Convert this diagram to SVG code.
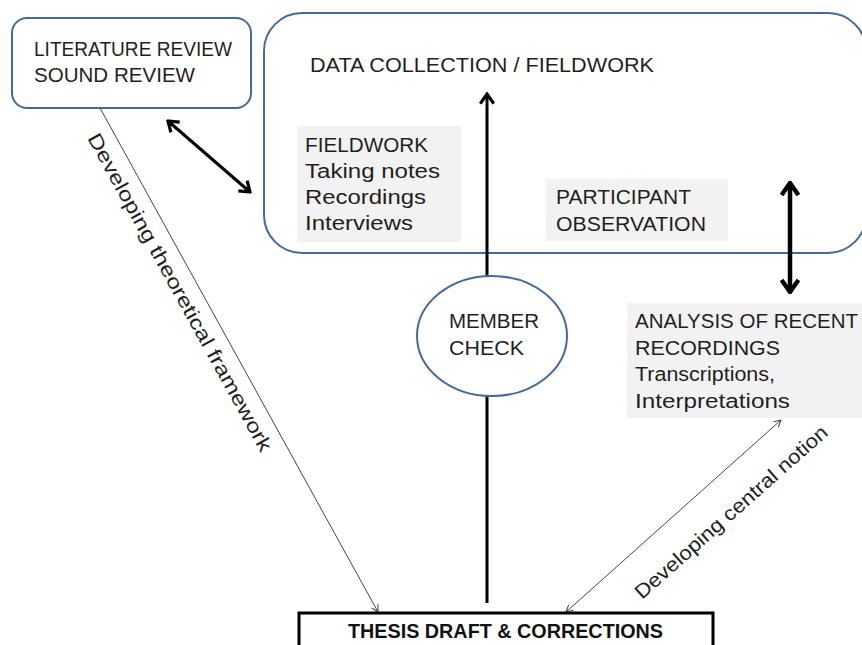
<svg xmlns="http://www.w3.org/2000/svg" width="862" height="645" viewBox="0 0 862 645">
<style>
.bx{fill:#fff;stroke:#44699b;stroke-width:2}
.gray{fill:#f2f2f2;stroke:none}
.t{font-family:"Liberation Sans",Arial,sans-serif;font-size:20px;fill:#1f1f1f}
.tb{font-family:"Liberation Sans",Arial,sans-serif;font-size:20px;font-weight:bold;fill:#111}
.thick{stroke:#000;fill:none}
.thin{stroke:#444;stroke-width:1;fill:none}
</style>
<defs>
<marker id="ah" viewBox="0 0 10 10" refX="9" refY="5" markerWidth="16" markerHeight="16" markerUnits="userSpaceOnUse" orient="auto-start-reverse">
<path d="M3,0.8 L9,5 L3,9.2" fill="none" stroke="#000" stroke-width="2" stroke-linejoin="miter"/>
</marker>
<marker id="ah2" viewBox="0 0 10 10" refX="9" refY="5" markerWidth="20" markerHeight="20" markerUnits="userSpaceOnUse" orient="auto-start-reverse">
<path d="M3,0.8 L9,5 L3,9.2" fill="none" stroke="#000" stroke-width="2.2"/>
</marker>
<marker id="ahs" viewBox="0 0 10 10" refX="9.5" refY="5" markerWidth="9" markerHeight="9" markerUnits="userSpaceOnUse" orient="auto-start-reverse">
<path d="M2,1 L9.5,5 L2,9" fill="none" stroke="#444" stroke-width="1.2"/>
</marker>
</defs>

<g id="data-collection">
<rect x="264" y="13" width="602" height="240" rx="38" ry="38" class="bx" fill="none" style="fill:none"/>
<text class="t" x="310" y="72" textLength="344" lengthAdjust="spacingAndGlyphs">DATA COLLECTION / FIELDWORK</text>
</g>

<g id="literature-review">
<rect x="12" y="18" width="239" height="90" rx="15" ry="15" class="bx"/>
<text class="t" x="34" y="56" textLength="198" lengthAdjust="spacingAndGlyphs">LITERATURE REVIEW</text>
<text class="t" x="34" y="82" textLength="161" lengthAdjust="spacingAndGlyphs">SOUND REVIEW</text>
</g>

<g id="fieldwork">
<rect x="297" y="126" width="164" height="116" class="gray"/>
<text class="t" x="305" y="152" textLength="123" lengthAdjust="spacingAndGlyphs">FIELDWORK</text>
<text class="t" x="305" y="178" textLength="135" lengthAdjust="spacingAndGlyphs">Taking notes</text>
<text class="t" x="305" y="204" textLength="121" lengthAdjust="spacingAndGlyphs">Recordings</text>
<text class="t" x="305" y="230" textLength="108" lengthAdjust="spacingAndGlyphs">Interviews</text>
</g>

<g id="participant-observation">
<rect x="546" y="179" width="182" height="62" class="gray"/>
<text class="t" x="556" y="204" textLength="135" lengthAdjust="spacingAndGlyphs">PARTICIPANT</text>
<text class="t" x="556" y="231" textLength="150" lengthAdjust="spacingAndGlyphs">OBSERVATION</text>
</g>

<g id="analysis">
<rect x="627" y="303" width="240" height="115" class="gray"/>
<text class="t" x="635" y="328" textLength="223" lengthAdjust="spacingAndGlyphs">ANALYSIS OF RECENT</text>
<text class="t" x="635" y="355" textLength="145" lengthAdjust="spacingAndGlyphs">RECORDINGS</text>
<text class="t" x="635" y="381" textLength="140" lengthAdjust="spacingAndGlyphs">Transcriptions,</text>
<text class="t" x="635" y="408" textLength="155" lengthAdjust="spacingAndGlyphs">Interpretations</text>
</g>

<g id="connectors">
<line x1="487" y1="603" x2="487" y2="94" class="thick" stroke-width="3" marker-end="url(#ah)"/>
<line x1="790" y1="183" x2="790" y2="292" class="thick" stroke-width="4.5" marker-start="url(#ah2)" marker-end="url(#ah2)"/>
<line x1="168" y1="121" x2="250" y2="192" class="thick" stroke-width="3" marker-start="url(#ah)" marker-end="url(#ah)"/>
<line x1="100" y1="108" x2="378" y2="612" class="thin" marker-end="url(#ahs)"/>
<line x1="566" y1="612" x2="781" y2="420" class="thin" marker-start="url(#ahs)" marker-end="url(#ahs)"/>
<text class="t" transform="translate(87,138) rotate(61.1)" x="0" y="0" textLength="360" lengthAdjust="spacingAndGlyphs">Developing theoretical framework</text>
<text class="t" transform="translate(642,600) rotate(-41.5)" x="0" y="0" textLength="250" lengthAdjust="spacingAndGlyphs">Developing central notion</text>
</g>

<g id="member-check">
<ellipse cx="492" cy="336" rx="75" ry="60" class="bx"/>
<text class="t" x="449" y="328" textLength="90" lengthAdjust="spacingAndGlyphs">MEMBER</text>
<text class="t" x="449" y="355" textLength="75" lengthAdjust="spacingAndGlyphs">CHECK</text>
</g>

<g id="thesis">
<rect x="299" y="613" width="414" height="50" fill="#fff" stroke="#000" stroke-width="3"/>
<text class="tb" x="348" y="638" textLength="315" lengthAdjust="spacingAndGlyphs">THESIS DRAFT &amp; CORRECTIONS</text>
</g>
</svg>
